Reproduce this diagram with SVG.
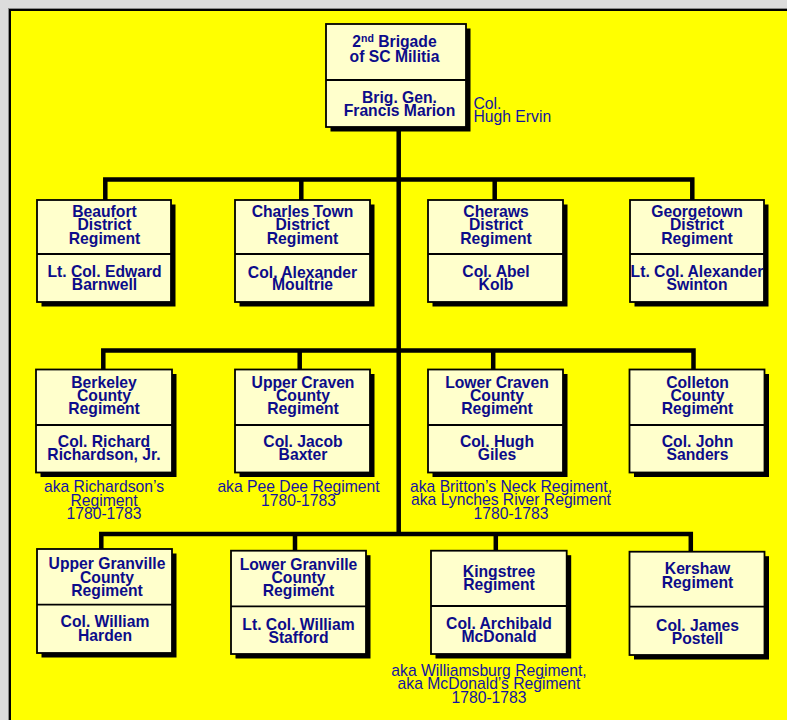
<svg xmlns="http://www.w3.org/2000/svg" width="787" height="720" viewBox="0 0 787 720">
<style>
.box{fill:#ffffcc;stroke:#000;stroke-width:1.8}
.sh{fill:#000}
.dv{stroke:#000;stroke-width:1.8}
.t{font-family:"Liberation Sans",Arial,Helvetica,sans-serif;font-weight:bold;font-size:15.7px;fill:#0c0c8a;text-anchor:middle}
.n{font-family:"Liberation Sans",Arial,Helvetica,sans-serif;font-size:15.7px;fill:#1414a0;text-anchor:middle}
.c{fill:none;stroke:#000;stroke-width:4.5;stroke-linejoin:miter;stroke-linecap:butt}
</style>
<rect x="0" y="0" width="787" height="720" fill="#dcdcdc"/>
<rect x="8.5" y="8.5" width="800" height="730" fill="none" stroke="#8a8a8a" stroke-width="1"/>
<rect x="10" y="10" width="800" height="730" fill="#ffff00" stroke="#000" stroke-width="2"/>

<g id="connectors">
<path class="c" d="M398.7,127 V534"/>
<path class="c" d="M105.3,200 V179.5 H692.3 V200 M301.3,179.5 V200 M494.7,179.5 V200"/>
<path class="c" d="M103.3,369.5 V350.5 H693.5 V369.5 M299.7,350.5 V369.5 M493.2,350.5 V369.5"/>
<path class="c" d="M101.3,549 V534 H690.8 V551.7 M295,534 V550.7 M495.8,534 V550.7"/>
</g>

<g id="brigade">
<rect class="sh" x="330.5" y="28.5" width="140" height="103"/>
<rect class="box" x="326" y="24" width="140" height="103"/>
<line class="dv" x1="326" y1="80" x2="466" y2="80"/>
<text class="t" x="394.5" y="46.7">2<tspan font-size="10.5px" dy="-5">nd</tspan><tspan dy="5"> Brigade</tspan></text>
<text class="t" x="394.5" y="61.7">of SC Militia</text>
<text class="t" x="399.5" y="102.7">Brig. Gen.</text>
<text class="t" x="399.5" y="116">Francis Marion</text>
<text class="n" style="text-anchor:start" x="473.5" y="109">Col.</text>
<text class="n" style="text-anchor:start" x="473.5" y="121.7">Hugh Ervin</text>
</g>

<g id="beaufort">
<rect class="sh" x="41.5" y="204.5" width="134" height="102"/>
<rect class="box" x="37" y="200" width="134" height="102"/>
<line class="dv" x1="37" y1="254" x2="171" y2="254"/>
<text class="t" x="104.5" y="217">Beaufort</text>
<text class="t" x="104.5" y="230.3">District</text>
<text class="t" x="104.5" y="243.6">Regiment</text>
<text class="t" x="104.5" y="277">Lt. Col. Edward</text>
<text class="t" x="104.5" y="289.5">Barnwell</text>
</g>

<g id="charlestown">
<rect class="sh" x="239.5" y="204.5" width="135" height="102"/>
<rect class="box" x="235" y="200" width="135" height="102"/>
<line class="dv" x1="235" y1="254" x2="370" y2="254"/>
<text class="t" x="302.5" y="217">Charles Town</text>
<text class="t" x="302.5" y="230.3">District</text>
<text class="t" x="302.5" y="243.6">Regiment</text>
<text class="t" x="302.5" y="277.5">Col. Alexander</text>
<text class="t" x="302.5" y="290">Moultrie</text>
</g>

<g id="cheraws">
<rect class="sh" x="432.5" y="204.5" width="135" height="102"/>
<rect class="box" x="428" y="200" width="135" height="102"/>
<line class="dv" x1="428" y1="254" x2="563" y2="254"/>
<text class="t" x="496" y="217">Cheraws</text>
<text class="t" x="496" y="230.3">District</text>
<text class="t" x="496" y="243.6">Regiment</text>
<text class="t" x="496" y="277">Col. Abel</text>
<text class="t" x="496" y="289.5">Kolb</text>
</g>

<g id="georgetown">
<rect class="sh" x="634.5" y="204.5" width="134" height="102"/>
<rect class="box" x="630" y="200" width="134" height="102"/>
<line class="dv" x1="630" y1="254" x2="764" y2="254"/>
<text class="t" x="697" y="217">Georgetown</text>
<text class="t" x="697" y="230.3">District</text>
<text class="t" x="697" y="243.6">Regiment</text>
<text class="t" x="697" y="277">Lt. Col. Alexander</text>
<text class="t" x="697" y="289.5">Swinton</text>
</g>

<g id="berkeley">
<rect class="sh" x="40.5" y="374" width="136" height="103"/>
<rect class="box" x="36" y="369.5" width="136" height="103"/>
<line class="dv" x1="36" y1="425" x2="172" y2="425"/>
<text class="t" x="104" y="387.5">Berkeley</text>
<text class="t" x="104" y="400.8">County</text>
<text class="t" x="104" y="414.1">Regiment</text>
<text class="t" x="104" y="446.7">Col. Richard</text>
<text class="t" x="104" y="460">Richardson, Jr.</text>
<text class="n" x="104" y="492.3">aka Richardson’s</text>
<text class="n" x="104" y="505.6">Regiment</text>
<text class="n" x="104" y="518.9">1780-1783</text>
</g>

<g id="uppercraven">
<rect class="sh" x="239.5" y="374" width="135" height="103"/>
<rect class="box" x="235" y="369.5" width="135" height="103"/>
<line class="dv" x1="235" y1="425" x2="370" y2="425"/>
<text class="t" x="303" y="387.5">Upper Craven</text>
<text class="t" x="303" y="400.8">County</text>
<text class="t" x="303" y="414.1">Regiment</text>
<text class="t" x="303" y="446.7">Col. Jacob</text>
<text class="t" x="303" y="460">Baxter</text>
<text class="n" x="298.5" y="492.3">aka Pee Dee Regiment</text>
<text class="n" x="298.5" y="505.6">1780-1783</text>
</g>

<g id="lowercraven">
<rect class="sh" x="432.5" y="374" width="135" height="103"/>
<rect class="box" x="428" y="369.5" width="135" height="103"/>
<line class="dv" x1="428" y1="425" x2="563" y2="425"/>
<text class="t" x="497" y="387.5">Lower Craven</text>
<text class="t" x="497" y="400.8">County</text>
<text class="t" x="497" y="414.1">Regiment</text>
<text class="t" x="497" y="446.7">Col. Hugh</text>
<text class="t" x="497" y="460">Giles</text>
<text class="n" x="511" y="491.7">aka Britton’s Neck Regiment,</text>
<text class="n" x="511" y="505.2">aka Lynches River Regiment</text>
<text class="n" x="511" y="518.5">1780-1783</text>
</g>

<g id="colleton">
<rect class="sh" x="634" y="374" width="135" height="103"/>
<rect class="box" x="629.5" y="369.5" width="135" height="103"/>
<line class="dv" x1="629.5" y1="425" x2="764.5" y2="425"/>
<text class="t" x="697.5" y="387.5">Colleton</text>
<text class="t" x="697.5" y="400.8">County</text>
<text class="t" x="697.5" y="414.1">Regiment</text>
<text class="t" x="697.5" y="446.7">Col. John</text>
<text class="t" x="697.5" y="460">Sanders</text>
</g>

<g id="uppergranville">
<rect class="sh" x="41.5" y="553.5" width="135" height="104"/>
<rect class="box" x="37" y="549" width="135" height="104"/>
<line class="dv" x1="37" y1="604.7" x2="172" y2="604.7"/>
<text class="t" x="107" y="569">Upper Granville</text>
<text class="t" x="107" y="582.5">County</text>
<text class="t" x="107" y="595.5">Regiment</text>
<text class="t" x="105" y="627">Col. William</text>
<text class="t" x="105" y="640.5">Harden</text>
</g>

<g id="lowergranville">
<rect class="sh" x="235.5" y="555.2" width="135" height="103.3"/>
<rect class="box" x="231" y="550.7" width="135" height="103.3"/>
<line class="dv" x1="231" y1="606.3" x2="366" y2="606.3"/>
<text class="t" x="298.5" y="569.5">Lower Granville</text>
<text class="t" x="298.5" y="583">County</text>
<text class="t" x="298.5" y="596">Regiment</text>
<text class="t" x="298.5" y="630">Lt. Col. William</text>
<text class="t" x="298.5" y="643.3">Stafford</text>
</g>

<g id="kingstree">
<rect class="sh" x="435.5" y="555.2" width="135.7" height="103.3"/>
<rect class="box" x="431" y="550.7" width="135.7" height="103.3"/>
<line class="dv" x1="431" y1="606" x2="566.7" y2="606"/>
<text class="t" x="499" y="576.7">Kingstree</text>
<text class="t" x="499" y="589.5">Regiment</text>
<text class="t" x="499" y="629">Col. Archibald</text>
<text class="t" x="499" y="642">McDonald</text>
<text class="n" x="489" y="675.7">aka Williamsburg Regiment,</text>
<text class="n" x="489" y="689.3">aka McDonald’s Regiment</text>
<text class="n" x="489" y="702.5">1780-1783</text>
</g>

<g id="kershaw">
<rect class="sh" x="634" y="556.2" width="135" height="103.3"/>
<rect class="box" x="629.5" y="551.7" width="135" height="103.3"/>
<line class="dv" x1="629.5" y1="606.7" x2="764.5" y2="606.7"/>
<text class="t" x="697.5" y="574.3">Kershaw</text>
<text class="t" x="697.5" y="588">Regiment</text>
<text class="t" x="697.5" y="630.7">Col. James</text>
<text class="t" x="697.5" y="643.5">Postell</text>
</g>
</svg>
